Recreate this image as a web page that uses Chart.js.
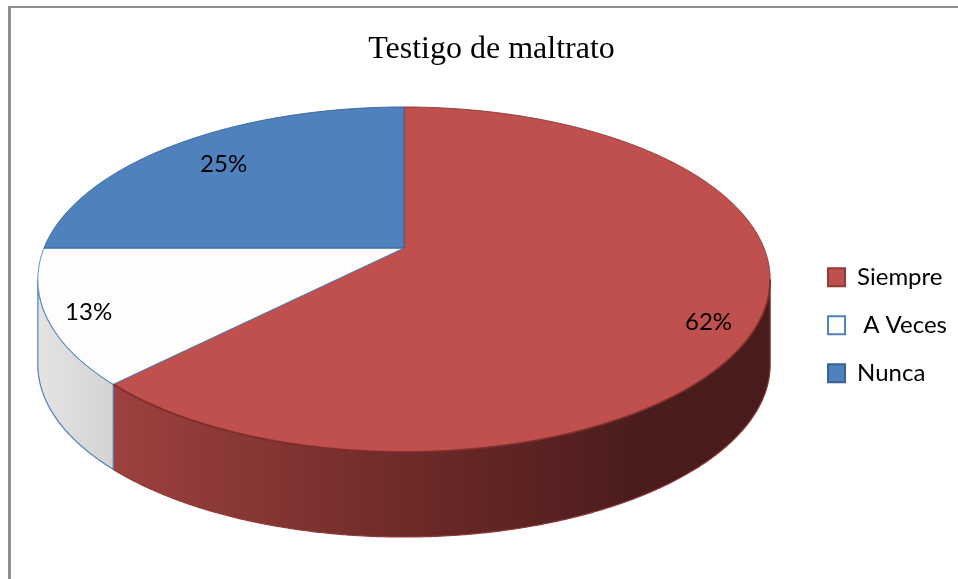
<!DOCTYPE html>
<html><head><meta charset="utf-8">
<script src="https://cdn.jsdelivr.net/npm/chart.js@4.4.0/dist/chart.umd.min.js"></script>
<style>
html,body{margin:0;padding:0;background:#fff;overflow:hidden;width:958px;height:579px;}
#wrap{position:absolute;left:0;top:0;width:981px;height:579px;}
#frame{position:absolute;left:8px;top:6px;width:1000px;height:700px;border-left:3px solid #8e8e8e;border-top:2px solid #8e8e8e;pointer-events:none;}
</style></head><body>
<div id="wrap"><canvas id="c" width="981" height="579"></canvas></div>
<div id="frame"></div>
<script>
// ---- data ----
const categories = ['Siempre', ' A Veces', 'Nunca'];
const percentValues = [62.4, 12.6, 25.0];
const chartTitle = 'Testigo de maltrato';

// ---- styles ----
const topColors = ['#c0504d', '#fdfdfd', '#4f81bd'];
const edgeColors = ['#8e3a38', '#4f81bd', '#3a6294'];
const sideGradients = [
  [[0, '#9d413f'], [0.45, '#6e2a29'], [0.8, '#4b1c1c'], [1, '#4a1b1b']],
  [[0, '#e4e4e4'], [1, '#d3d3d3']],
  [[0, '#3d6699'], [1, '#2c4c75']]
];

const pie3d = {
  id: 'pie3d',
  beforeDatasetDraw() { return false; },
  afterDatasetsDraw(chart, args, o) {
    const ctx = chart.ctx;
    const meta = chart.getDatasetMeta(0);
    const ds = chart.data.datasets[0];
    const {cx, cy, rx, ry, k, depth} = o;
    const P = (t, r = 1, dz = 0) => {
      const u = r * Math.cos(t), v = r * Math.sin(t), d = 1 - k * v;
      return [cx + rx * u / d, cy + ry * v / d + dz];
    };
    const arcPath = (a, b, dz, move) => {
      const n = Math.max(2, Math.ceil(Math.abs(b - a) / 0.005));
      for (let i = 0; i <= n; i++) {
        const p = P(a + (b - a) * i / n, 1, dz);
        if (i === 0 && move) ctx.moveTo(p[0], p[1]); else ctx.lineTo(p[0], p[1]);
      }
    };
    const tmin = Math.asin(k), tmax = Math.PI - Math.asin(k);
    const arcs = meta.data.map(a => a.getProps(['startAngle', 'endAngle'], true));
    ctx.save();
    // sides
    arcs.forEach((a, i) => {
      const ts = Math.max(a.startAngle, tmin), te = Math.min(a.endAngle, tmax);
      if (ts >= te) return;
      ctx.beginPath();
      arcPath(ts, te, 0, true);
      arcPath(te, ts, depth, false);
      ctx.closePath();
      const x0 = P(te)[0], x1 = P(ts)[0];
      const g = ctx.createLinearGradient(x0, 0, x1, 0);
      sideGradients[i].forEach(s => g.addColorStop(s[0], s[1]));
      ctx.fillStyle = g;
      ctx.fill();
      ctx.lineWidth = 1.2;
      ctx.strokeStyle = edgeColors[i];
      ctx.lineJoin = 'round';
      ctx.stroke();
    });
    // top faces
    arcs.forEach((a, i) => {
      ctx.beginPath();
      ctx.moveTo(cx, cy);
      arcPath(a.startAngle, a.endAngle, 0, false);
      ctx.closePath();
      ctx.fillStyle = ds.backgroundColor[i];
      ctx.fill();
      ctx.lineWidth = 1;
      ctx.strokeStyle = edgeColors[i];
      ctx.stroke();
    });
    // front rim shading on top faces
    arcs.forEach((a, i) => {
      const ts = Math.max(a.startAngle, tmin), te = Math.min(a.endAngle, tmax);
      if (ts >= te || i === 1) return;
      ctx.beginPath();
      arcPath(ts, te, 0, true);
      ctx.lineWidth = 2;
      ctx.strokeStyle = 'rgba(110,35,34,0.55)';
      ctx.stroke();
    });
    // data labels
    const total = ds.data.reduce((s, v) => s + v, 0);
    ctx.font = o.labelFont;
    ctx.fillStyle = '#000';
    ctx.textAlign = 'center';
    ctx.textBaseline = 'middle';
    arcs.forEach((a, i) => {
      const mid = (a.startAngle + a.endAngle) / 2;
      const p = P(mid, o.labelRadius[i]);
      const txt = Math.round(ds.data[i] / total * 100) + '%';
      ctx.fillText(txt, p[0], p[1] + o.labelDy[i]);
    });
    ctx.restore();
  }
};

new Chart(document.getElementById('c'), {
  type: 'pie',
  data: {
    labels: categories,
    datasets: [{
      data: percentValues,
      backgroundColor: topColors,
      borderColor: edgeColors,
      borderWidth: 2
    }]
  },
  options: {
    responsive: false,
    animation: false,
    devicePixelRatio: 1,
    layout: { padding: { left: 26, right: 24, top: 0, bottom: 5 } },
    plugins: {
      tooltip: { enabled: false },
      title: {
        display: true,
        text: chartTitle,
        color: '#000',
        font: { family: 'Liberation Serif', size: 32, weight: 'normal' },
        padding: { top: 30, bottom: 8 }
      },
      legend: {
        position: 'right',
        fullSize: false,
        labels: {
          color: '#000',
          font: { family: 'Lato', size: 24 },
          boxWidth: 17,
          boxHeight: 18,
          padding: 24
        }
      },
      pie3d: {
        cx: 404, cy: 248, rx: 360, ry: 166.75, k: 0.1826, depth: 85,
        labelFont: '24px Lato',
        labelRadius: [0.86, 0.89, 0.78],
        labelDy: [16, 3, 0]
      }
    }
  },
  plugins: [pie3d]
});
</script>
</body></html>
